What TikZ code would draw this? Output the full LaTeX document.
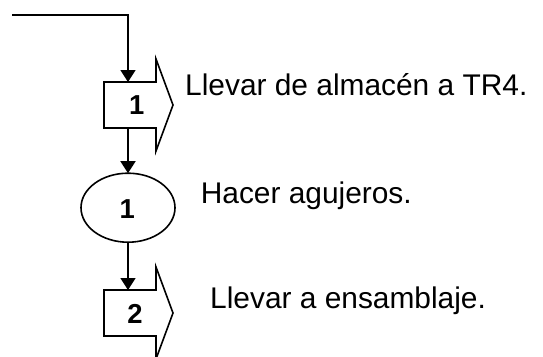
\documentclass[tikz,border=0pt]{standalone}
\usepackage{fontspec}
\setmainfont{Liberation Sans}
\usetikzlibrary{arrows.meta,shapes.geometric}
\begin{document}
\begin{tikzpicture}[x=1bp,y=-1bp,
 ln/.style={line width=1.6bp, draw=black, line join=miter},
 flow/.style={ln, -{Triangle[width=15bp,length=12bp]}},
 body/.style={minimum width=52bp, minimum height=46bp, inner sep=0pt, outer sep=0pt, draw=none},
 oval/.style={ln, ellipse, minimum width=94bp, minimum height=69bp, inner sep=0pt, outer sep=0pt},
 num/.style={inner sep=0pt, font=\bfseries\fontsize{27.5}{27.5}\selectfont},
 lbl/.style={anchor=base west, inner sep=0pt, font=\fontsize{30}{36}\selectfont}]
\useasboundingbox (0,0) rectangle (543,356);
\coordinate (s) at (12,15);
\coordinate (c) at (128,15);
\node[body] (t1) at (130,105) {};
\node[body] (t2) at (130,313) {};
\node[oval] (e1) at (128,207.7) {};
\draw[ln] (t1.north west) -- (t1.north east) -- ([yshift=23bp]t1.north east) -- ([xshift=17bp]t1.east) -- ([yshift=-23bp]t1.south east) -- (t1.south east) -- (t1.south west) -- cycle;
\draw[ln] (t2.north west) -- (t2.north east) -- ([yshift=23bp]t2.north east) -- ([xshift=17bp]t2.east) -- ([yshift=-23bp]t2.south east) -- (t2.south east) -- (t2.south west) -- cycle;
\node[num] (n1) at (136.8,105) {1};
\node[num] (n2) at (127.2,209) {1};
\node[num] (n3) at (135,314) {2};
\node[lbl] (l1) at (185,95) {Llevar de almacén a TR4.};
\node[lbl] (l2) at (200.6,203.3) {Hacer agujeros.};
\node[lbl] (l3) at (210,308) {Llevar a ensamblaje.};
\draw[flow] (s) -- (c) -- (c |- t1.north);
\draw[flow] (t1.south -| c) -- (e1.north);
\draw[flow] (e1.south) -- (e1.south |- t2.north);
\end{tikzpicture}
\end{document}
